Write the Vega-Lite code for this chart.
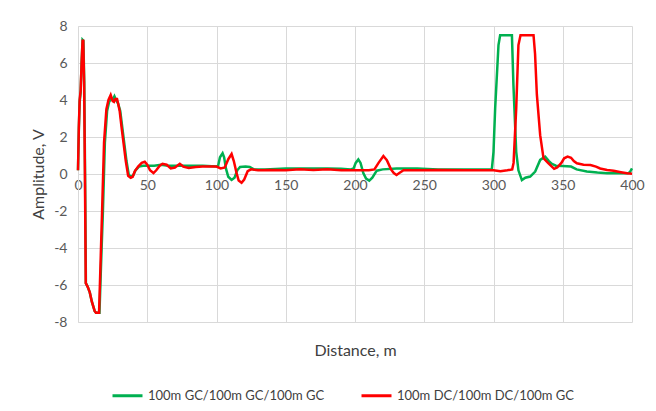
{
  "$schema": "https://vega.github.io/schema/vega-lite/v6.json",
  "autosize": "none",
  "width": 554,
  "height": 296,
  "padding": {"left": 78, "top": 26, "right": 24, "bottom": 89},
  "background": "white",
  "config": {
    "view": {"stroke": null},
    "font": "Lato",
    "axis": {"gridColor": "#d9d9d9", "gridWidth": 1, "labelColor": "#595959", "titleColor": "#404040", "labelFont": "Lato", "titleFont": "Lato", "labelFontSize": 14, "titleFontSize": 15, "titleFontWeight": "normal", "ticks": false}
  },
  "data": {"values": [
    {"d":0,"v":0.2,"s":"100m GC/100m GC/100m GC"},
    {"d":0.6,"v":2.4,"s":"100m GC/100m GC/100m GC"},
    {"d":1.2,"v":3.9,"s":"100m GC/100m GC/100m GC"},
    {"d":1.9,"v":4.4,"s":"100m GC/100m GC/100m GC"},
    {"d":2.6,"v":6.0,"s":"100m GC/100m GC/100m GC"},
    {"d":3.3,"v":7.25,"s":"100m GC/100m GC/100m GC"},
    {"d":3.9,"v":7.2,"s":"100m GC/100m GC/100m GC"},
    {"d":4.5,"v":5.0,"s":"100m GC/100m GC/100m GC"},
    {"d":5.1,"v":0.0,"s":"100m GC/100m GC/100m GC"},
    {"d":5.7,"v":-5.9,"s":"100m GC/100m GC/100m GC"},
    {"d":7,"v":-6.1,"s":"100m GC/100m GC/100m GC"},
    {"d":8.5,"v":-6.4,"s":"100m GC/100m GC/100m GC"},
    {"d":10,"v":-6.9,"s":"100m GC/100m GC/100m GC"},
    {"d":12,"v":-7.4,"s":"100m GC/100m GC/100m GC"},
    {"d":13,"v":-7.5,"s":"100m GC/100m GC/100m GC"},
    {"d":15.5,"v":-7.5,"s":"100m GC/100m GC/100m GC"},
    {"d":16.6,"v":-5.0,"s":"100m GC/100m GC/100m GC"},
    {"d":18,"v":-2.0,"s":"100m GC/100m GC/100m GC"},
    {"d":19.4,"v":1.7,"s":"100m GC/100m GC/100m GC"},
    {"d":21,"v":3.4,"s":"100m GC/100m GC/100m GC"},
    {"d":22.5,"v":3.9,"s":"100m GC/100m GC/100m GC"},
    {"d":24,"v":4.1,"s":"100m GC/100m GC/100m GC"},
    {"d":25,"v":4.0,"s":"100m GC/100m GC/100m GC"},
    {"d":26.3,"v":4.2,"s":"100m GC/100m GC/100m GC"},
    {"d":27.5,"v":4.0,"s":"100m GC/100m GC/100m GC"},
    {"d":29,"v":3.8,"s":"100m GC/100m GC/100m GC"},
    {"d":30.5,"v":3.4,"s":"100m GC/100m GC/100m GC"},
    {"d":32,"v":2.5,"s":"100m GC/100m GC/100m GC"},
    {"d":33.5,"v":1.6,"s":"100m GC/100m GC/100m GC"},
    {"d":35,"v":0.7,"s":"100m GC/100m GC/100m GC"},
    {"d":36.7,"v":-0.05,"s":"100m GC/100m GC/100m GC"},
    {"d":38.5,"v":-0.15,"s":"100m GC/100m GC/100m GC"},
    {"d":40,"v":-0.05,"s":"100m GC/100m GC/100m GC"},
    {"d":41.5,"v":0.2,"s":"100m GC/100m GC/100m GC"},
    {"d":44,"v":0.4,"s":"100m GC/100m GC/100m GC"},
    {"d":47,"v":0.45,"s":"100m GC/100m GC/100m GC"},
    {"d":50,"v":0.45,"s":"100m GC/100m GC/100m GC"},
    {"d":55,"v":0.45,"s":"100m GC/100m GC/100m GC"},
    {"d":60,"v":0.5,"s":"100m GC/100m GC/100m GC"},
    {"d":65,"v":0.45,"s":"100m GC/100m GC/100m GC"},
    {"d":70,"v":0.45,"s":"100m GC/100m GC/100m GC"},
    {"d":75,"v":0.45,"s":"100m GC/100m GC/100m GC"},
    {"d":80,"v":0.45,"s":"100m GC/100m GC/100m GC"},
    {"d":90,"v":0.45,"s":"100m GC/100m GC/100m GC"},
    {"d":100,"v":0.4,"s":"100m GC/100m GC/100m GC"},
    {"d":101.2,"v":0.45,"s":"100m GC/100m GC/100m GC"},
    {"d":102.5,"v":0.9,"s":"100m GC/100m GC/100m GC"},
    {"d":104.4,"v":1.12,"s":"100m GC/100m GC/100m GC"},
    {"d":105.5,"v":0.9,"s":"100m GC/100m GC/100m GC"},
    {"d":106.8,"v":0.3,"s":"100m GC/100m GC/100m GC"},
    {"d":108.5,"v":-0.15,"s":"100m GC/100m GC/100m GC"},
    {"d":110.9,"v":-0.32,"s":"100m GC/100m GC/100m GC"},
    {"d":113,"v":-0.2,"s":"100m GC/100m GC/100m GC"},
    {"d":115,"v":0.2,"s":"100m GC/100m GC/100m GC"},
    {"d":117,"v":0.38,"s":"100m GC/100m GC/100m GC"},
    {"d":121,"v":0.4,"s":"100m GC/100m GC/100m GC"},
    {"d":124,"v":0.38,"s":"100m GC/100m GC/100m GC"},
    {"d":127,"v":0.25,"s":"100m GC/100m GC/100m GC"},
    {"d":135,"v":0.25,"s":"100m GC/100m GC/100m GC"},
    {"d":150,"v":0.3,"s":"100m GC/100m GC/100m GC"},
    {"d":165,"v":0.3,"s":"100m GC/100m GC/100m GC"},
    {"d":180,"v":0.3,"s":"100m GC/100m GC/100m GC"},
    {"d":190,"v":0.28,"s":"100m GC/100m GC/100m GC"},
    {"d":197,"v":0.25,"s":"100m GC/100m GC/100m GC"},
    {"d":199,"v":0.3,"s":"100m GC/100m GC/100m GC"},
    {"d":200.5,"v":0.6,"s":"100m GC/100m GC/100m GC"},
    {"d":202.4,"v":0.79,"s":"100m GC/100m GC/100m GC"},
    {"d":204,"v":0.6,"s":"100m GC/100m GC/100m GC"},
    {"d":206,"v":0.05,"s":"100m GC/100m GC/100m GC"},
    {"d":208,"v":-0.25,"s":"100m GC/100m GC/100m GC"},
    {"d":210.3,"v":-0.36,"s":"100m GC/100m GC/100m GC"},
    {"d":212.5,"v":-0.2,"s":"100m GC/100m GC/100m GC"},
    {"d":215.7,"v":0.18,"s":"100m GC/100m GC/100m GC"},
    {"d":220,"v":0.25,"s":"100m GC/100m GC/100m GC"},
    {"d":230,"v":0.3,"s":"100m GC/100m GC/100m GC"},
    {"d":245,"v":0.3,"s":"100m GC/100m GC/100m GC"},
    {"d":260,"v":0.25,"s":"100m GC/100m GC/100m GC"},
    {"d":275,"v":0.25,"s":"100m GC/100m GC/100m GC"},
    {"d":290,"v":0.25,"s":"100m GC/100m GC/100m GC"},
    {"d":298.8,"v":0.25,"s":"100m GC/100m GC/100m GC"},
    {"d":300,"v":1.2,"s":"100m GC/100m GC/100m GC"},
    {"d":301.2,"v":3.55,"s":"100m GC/100m GC/100m GC"},
    {"d":303.6,"v":6.97,"s":"100m GC/100m GC/100m GC"},
    {"d":304.8,"v":7.5,"s":"100m GC/100m GC/100m GC"},
    {"d":313.3,"v":7.5,"s":"100m GC/100m GC/100m GC"},
    {"d":314.4,"v":4.8,"s":"100m GC/100m GC/100m GC"},
    {"d":316.4,"v":1.2,"s":"100m GC/100m GC/100m GC"},
    {"d":318,"v":0.2,"s":"100m GC/100m GC/100m GC"},
    {"d":320.5,"v":-0.33,"s":"100m GC/100m GC/100m GC"},
    {"d":323,"v":-0.2,"s":"100m GC/100m GC/100m GC"},
    {"d":326.5,"v":-0.14,"s":"100m GC/100m GC/100m GC"},
    {"d":330.1,"v":0.13,"s":"100m GC/100m GC/100m GC"},
    {"d":333.7,"v":0.76,"s":"100m GC/100m GC/100m GC"},
    {"d":337.3,"v":0.94,"s":"100m GC/100m GC/100m GC"},
    {"d":340,"v":0.7,"s":"100m GC/100m GC/100m GC"},
    {"d":342.2,"v":0.55,"s":"100m GC/100m GC/100m GC"},
    {"d":345,"v":0.45,"s":"100m GC/100m GC/100m GC"},
    {"d":350,"v":0.43,"s":"100m GC/100m GC/100m GC"},
    {"d":356,"v":0.4,"s":"100m GC/100m GC/100m GC"},
    {"d":360,"v":0.25,"s":"100m GC/100m GC/100m GC"},
    {"d":367.4,"v":0.14,"s":"100m GC/100m GC/100m GC"},
    {"d":375,"v":0.08,"s":"100m GC/100m GC/100m GC"},
    {"d":382,"v":0.04,"s":"100m GC/100m GC/100m GC"},
    {"d":390,"v":0.04,"s":"100m GC/100m GC/100m GC"},
    {"d":397,"v":0.04,"s":"100m GC/100m GC/100m GC"},
    {"d":398.5,"v":0.1,"s":"100m GC/100m GC/100m GC"},
    {"d":400,"v":0.3,"s":"100m GC/100m GC/100m GC"},
    {"d":0,"v":0.2,"s":"100m DC/100m DC/100m GC"},
    {"d":0.6,"v":2.5,"s":"100m DC/100m DC/100m GC"},
    {"d":1.2,"v":4.0,"s":"100m DC/100m DC/100m GC"},
    {"d":1.9,"v":4.5,"s":"100m DC/100m DC/100m GC"},
    {"d":2.6,"v":6.0,"s":"100m DC/100m DC/100m GC"},
    {"d":3.3,"v":7.2,"s":"100m DC/100m DC/100m GC"},
    {"d":3.8,"v":7.2,"s":"100m DC/100m DC/100m GC"},
    {"d":4.4,"v":5.0,"s":"100m DC/100m DC/100m GC"},
    {"d":5.0,"v":0.0,"s":"100m DC/100m DC/100m GC"},
    {"d":5.6,"v":-5.9,"s":"100m DC/100m DC/100m GC"},
    {"d":7,"v":-6.1,"s":"100m DC/100m DC/100m GC"},
    {"d":8.5,"v":-6.4,"s":"100m DC/100m DC/100m GC"},
    {"d":10,"v":-6.9,"s":"100m DC/100m DC/100m GC"},
    {"d":12,"v":-7.4,"s":"100m DC/100m DC/100m GC"},
    {"d":13,"v":-7.5,"s":"100m DC/100m DC/100m GC"},
    {"d":15.2,"v":-7.5,"s":"100m DC/100m DC/100m GC"},
    {"d":16.2,"v":-5.0,"s":"100m DC/100m DC/100m GC"},
    {"d":17.4,"v":-2.0,"s":"100m DC/100m DC/100m GC"},
    {"d":18.8,"v":1.7,"s":"100m DC/100m DC/100m GC"},
    {"d":20.5,"v":3.5,"s":"100m DC/100m DC/100m GC"},
    {"d":22,"v":4.0,"s":"100m DC/100m DC/100m GC"},
    {"d":23.6,"v":4.27,"s":"100m DC/100m DC/100m GC"},
    {"d":25,"v":3.95,"s":"100m DC/100m DC/100m GC"},
    {"d":26,"v":3.9,"s":"100m DC/100m DC/100m GC"},
    {"d":27,"v":4.05,"s":"100m DC/100m DC/100m GC"},
    {"d":28.2,"v":4.05,"s":"100m DC/100m DC/100m GC"},
    {"d":29,"v":3.8,"s":"100m DC/100m DC/100m GC"},
    {"d":30.1,"v":3.4,"s":"100m DC/100m DC/100m GC"},
    {"d":31.5,"v":2.5,"s":"100m DC/100m DC/100m GC"},
    {"d":33,"v":1.6,"s":"100m DC/100m DC/100m GC"},
    {"d":34.5,"v":0.7,"s":"100m DC/100m DC/100m GC"},
    {"d":36.2,"v":-0.1,"s":"100m DC/100m DC/100m GC"},
    {"d":38,"v":-0.2,"s":"100m DC/100m DC/100m GC"},
    {"d":39.5,"v":-0.15,"s":"100m DC/100m DC/100m GC"},
    {"d":41,"v":0.15,"s":"100m DC/100m DC/100m GC"},
    {"d":43.4,"v":0.4,"s":"100m DC/100m DC/100m GC"},
    {"d":46,"v":0.6,"s":"100m DC/100m DC/100m GC"},
    {"d":48.2,"v":0.66,"s":"100m DC/100m DC/100m GC"},
    {"d":50,"v":0.5,"s":"100m DC/100m DC/100m GC"},
    {"d":52,"v":0.2,"s":"100m DC/100m DC/100m GC"},
    {"d":54.5,"v":0.05,"s":"100m DC/100m DC/100m GC"},
    {"d":56.5,"v":0.2,"s":"100m DC/100m DC/100m GC"},
    {"d":59,"v":0.45,"s":"100m DC/100m DC/100m GC"},
    {"d":61,"v":0.55,"s":"100m DC/100m DC/100m GC"},
    {"d":64,"v":0.5,"s":"100m DC/100m DC/100m GC"},
    {"d":67,"v":0.3,"s":"100m DC/100m DC/100m GC"},
    {"d":70,"v":0.35,"s":"100m DC/100m DC/100m GC"},
    {"d":73.5,"v":0.55,"s":"100m DC/100m DC/100m GC"},
    {"d":76,"v":0.4,"s":"100m DC/100m DC/100m GC"},
    {"d":80,"v":0.32,"s":"100m DC/100m DC/100m GC"},
    {"d":85,"v":0.38,"s":"100m DC/100m DC/100m GC"},
    {"d":90,"v":0.4,"s":"100m DC/100m DC/100m GC"},
    {"d":95,"v":0.4,"s":"100m DC/100m DC/100m GC"},
    {"d":100,"v":0.4,"s":"100m DC/100m DC/100m GC"},
    {"d":103,"v":0.3,"s":"100m DC/100m DC/100m GC"},
    {"d":106,"v":0.35,"s":"100m DC/100m DC/100m GC"},
    {"d":108.5,"v":0.8,"s":"100m DC/100m DC/100m GC"},
    {"d":110.9,"v":1.08,"s":"100m DC/100m DC/100m GC"},
    {"d":112.5,"v":0.7,"s":"100m DC/100m DC/100m GC"},
    {"d":114.5,"v":0.05,"s":"100m DC/100m DC/100m GC"},
    {"d":116,"v":-0.35,"s":"100m DC/100m DC/100m GC"},
    {"d":118.1,"v":-0.47,"s":"100m DC/100m DC/100m GC"},
    {"d":120,"v":-0.3,"s":"100m DC/100m DC/100m GC"},
    {"d":122.5,"v":0.15,"s":"100m DC/100m DC/100m GC"},
    {"d":125,"v":0.25,"s":"100m DC/100m DC/100m GC"},
    {"d":130,"v":0.2,"s":"100m DC/100m DC/100m GC"},
    {"d":140,"v":0.22,"s":"100m DC/100m DC/100m GC"},
    {"d":150,"v":0.2,"s":"100m DC/100m DC/100m GC"},
    {"d":160,"v":0.25,"s":"100m DC/100m DC/100m GC"},
    {"d":170,"v":0.22,"s":"100m DC/100m DC/100m GC"},
    {"d":180,"v":0.25,"s":"100m DC/100m DC/100m GC"},
    {"d":190,"v":0.2,"s":"100m DC/100m DC/100m GC"},
    {"d":200,"v":0.2,"s":"100m DC/100m DC/100m GC"},
    {"d":210,"v":0.2,"s":"100m DC/100m DC/100m GC"},
    {"d":214,"v":0.25,"s":"100m DC/100m DC/100m GC"},
    {"d":217,"v":0.6,"s":"100m DC/100m DC/100m GC"},
    {"d":220.5,"v":0.97,"s":"100m DC/100m DC/100m GC"},
    {"d":223,"v":0.75,"s":"100m DC/100m DC/100m GC"},
    {"d":226,"v":0.25,"s":"100m DC/100m DC/100m GC"},
    {"d":228,"v":0.05,"s":"100m DC/100m DC/100m GC"},
    {"d":230,"v":-0.05,"s":"100m DC/100m DC/100m GC"},
    {"d":232,"v":0.05,"s":"100m DC/100m DC/100m GC"},
    {"d":235,"v":0.2,"s":"100m DC/100m DC/100m GC"},
    {"d":245,"v":0.2,"s":"100m DC/100m DC/100m GC"},
    {"d":260,"v":0.22,"s":"100m DC/100m DC/100m GC"},
    {"d":280,"v":0.2,"s":"100m DC/100m DC/100m GC"},
    {"d":290,"v":0.2,"s":"100m DC/100m DC/100m GC"},
    {"d":300,"v":0.2,"s":"100m DC/100m DC/100m GC"},
    {"d":305,"v":0.15,"s":"100m DC/100m DC/100m GC"},
    {"d":310,"v":0.2,"s":"100m DC/100m DC/100m GC"},
    {"d":313.5,"v":0.25,"s":"100m DC/100m DC/100m GC"},
    {"d":314.5,"v":0.6,"s":"100m DC/100m DC/100m GC"},
    {"d":316.4,"v":3.55,"s":"100m DC/100m DC/100m GC"},
    {"d":318,"v":6.97,"s":"100m DC/100m DC/100m GC"},
    {"d":319.5,"v":7.5,"s":"100m DC/100m DC/100m GC"},
    {"d":328.9,"v":7.5,"s":"100m DC/100m DC/100m GC"},
    {"d":330,"v":6.5,"s":"100m DC/100m DC/100m GC"},
    {"d":331.3,"v":4.3,"s":"100m DC/100m DC/100m GC"},
    {"d":333.7,"v":2.1,"s":"100m DC/100m DC/100m GC"},
    {"d":336.1,"v":0.85,"s":"100m DC/100m DC/100m GC"},
    {"d":339.7,"v":0.58,"s":"100m DC/100m DC/100m GC"},
    {"d":343.8,"v":0.28,"s":"100m DC/100m DC/100m GC"},
    {"d":346,"v":0.35,"s":"100m DC/100m DC/100m GC"},
    {"d":349,"v":0.6,"s":"100m DC/100m DC/100m GC"},
    {"d":351,"v":0.85,"s":"100m DC/100m DC/100m GC"},
    {"d":353.5,"v":0.94,"s":"100m DC/100m DC/100m GC"},
    {"d":356,"v":0.88,"s":"100m DC/100m DC/100m GC"},
    {"d":358,"v":0.7,"s":"100m DC/100m DC/100m GC"},
    {"d":360.2,"v":0.58,"s":"100m DC/100m DC/100m GC"},
    {"d":365,"v":0.5,"s":"100m DC/100m DC/100m GC"},
    {"d":370,"v":0.49,"s":"100m DC/100m DC/100m GC"},
    {"d":374,"v":0.4,"s":"100m DC/100m DC/100m GC"},
    {"d":377,"v":0.3,"s":"100m DC/100m DC/100m GC"},
    {"d":382,"v":0.22,"s":"100m DC/100m DC/100m GC"},
    {"d":386.7,"v":0.18,"s":"100m DC/100m DC/100m GC"},
    {"d":392,"v":0.1,"s":"100m DC/100m DC/100m GC"},
    {"d":396.4,"v":0.04,"s":"100m DC/100m DC/100m GC"},
    {"d":400,"v":0.02,"s":"100m DC/100m DC/100m GC"}
  ]},
  "mark": {"type": "line", "strokeWidth": 2.5, "interpolate": "linear"},
  "encoding": {
    "x": {"field": "d", "type": "quantitative", "scale": {"domain": [0, 400], "nice": false},
      "axis": {"title": "Distance, m", "values": [0,50,100,150,200,250,300,350,400], "offset": -148, "domainColor": "#d9d9d9", "labelPadding": 4, "labelFlush": false, "titleX": 277, "titleY": 176, "titleBaseline": "middle", "titleAlign": "center", "titleFontSize": 16}},
    "y": {"field": "v", "type": "quantitative", "scale": {"domain": [-8, 8], "nice": false},
      "axis": {"title": "Amplitude, V", "values": [-8,-6,-4,-2,0,2,4,6,8], "labelExpr": "'' + datum.value", "domainColor": "#d9d9d9", "labelPadding": 11, "titleX": -40, "titleY": 148, "titleBaseline": "middle", "titleAlign": "center", "titleFontSize": 16}},
    "color": {"field": "s", "type": "nominal", "sort": null,
      "scale": {"domain": ["100m GC/100m GC/100m GC", "100m DC/100m DC/100m GC"], "range": ["#00b050", "#ff0000"]},
      "legend": {"title": null, "orient": "none", "direction": "horizontal", "legendX": 33, "legendY": 353, "symbolType": "stroke", "symbolSize": 900, "symbolStrokeWidth": 3, "labelFontSize": 13, "labelLimit": 0, "labelColor": "#404040", "labelFont": "Lato", "columnPadding": 30, "labelOffset": 4}}
  }
}
